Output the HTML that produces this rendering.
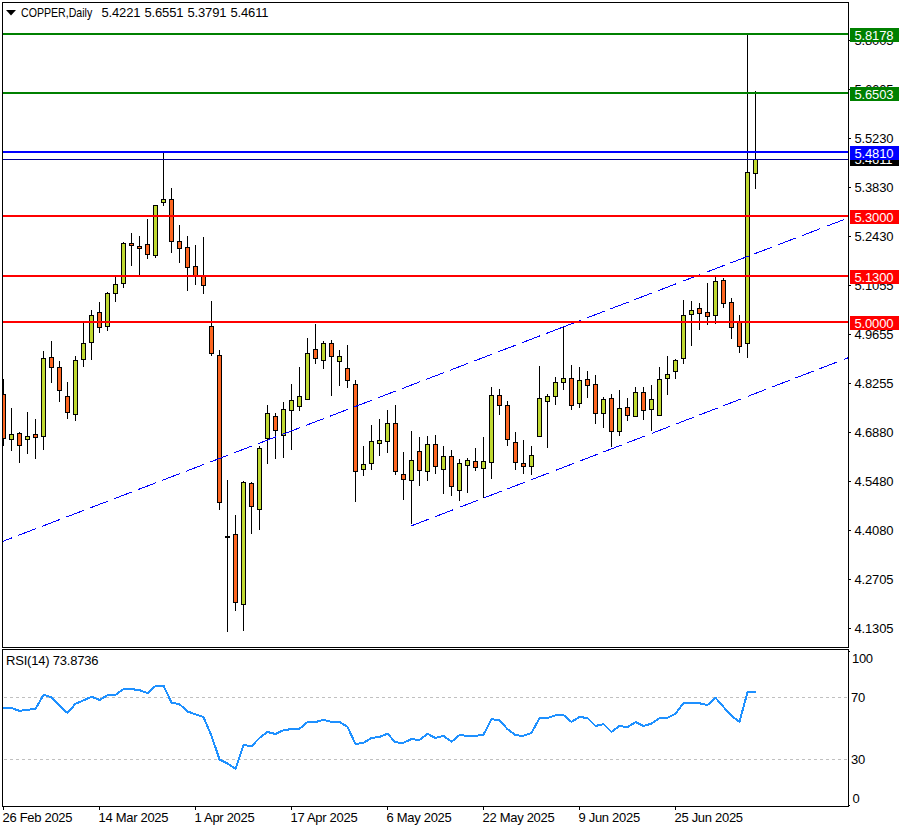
<!DOCTYPE html>
<html><head><meta charset="utf-8"><title>COPPER Daily</title>
<style>
html,body{margin:0;padding:0;background:#fff;}
body{width:905px;height:830px;position:relative;overflow:hidden;font-family:"Liberation Sans",sans-serif;}
.t{position:absolute;font-size:13px;line-height:15px;color:#000;white-space:pre;}
.b{position:absolute;left:850px;width:49px;height:14px;color:#fff;font-size:13px;line-height:14px;white-space:pre;overflow:hidden;}
.b span{position:absolute;left:4.5px;top:1px;}
</style></head><body>
<svg width="905" height="830" viewBox="0 0 905 830" style="position:absolute;left:0;top:0">
<g shape-rendering="crispEdges">
<clipPath id="cp"><rect x="3" y="3" width="845" height="644"/></clipPath>
<g clip-path="url(#cp)">
<rect x="3" y="379" width="1" height="67" fill="#000"/>
<rect x="1" y="394" width="5" height="45" fill="#000"/>
<rect x="2" y="395" width="3" height="43" fill="#fc6520"/>
<rect x="11" y="408" width="1" height="43" fill="#000"/>
<rect x="9" y="434" width="5" height="6" fill="#000"/>
<rect x="10" y="435" width="3" height="4" fill="#bfd830"/>
<rect x="19" y="432" width="1" height="31" fill="#000"/>
<rect x="17" y="433" width="5" height="13" fill="#000"/>
<rect x="18" y="434" width="3" height="11" fill="#fc6520"/>
<rect x="27" y="412" width="1" height="42" fill="#000"/>
<rect x="25" y="436" width="5" height="4" fill="#000"/>
<rect x="26" y="437" width="3" height="2" fill="#bfd830"/>
<rect x="35" y="419" width="1" height="40" fill="#000"/>
<rect x="33" y="434" width="5" height="4" fill="#000"/>
<rect x="34" y="435" width="3" height="2" fill="#fc6520"/>
<rect x="43" y="351" width="1" height="99" fill="#000"/>
<rect x="41" y="358" width="5" height="79" fill="#000"/>
<rect x="42" y="359" width="3" height="77" fill="#bfd830"/>
<rect x="51" y="341" width="1" height="42" fill="#000"/>
<rect x="49" y="357" width="5" height="11" fill="#000"/>
<rect x="50" y="358" width="3" height="9" fill="#fc6520"/>
<rect x="59" y="361" width="1" height="41" fill="#000"/>
<rect x="57" y="367" width="5" height="24" fill="#000"/>
<rect x="58" y="368" width="3" height="22" fill="#fc6520"/>
<rect x="67" y="382" width="1" height="37" fill="#000"/>
<rect x="65" y="396" width="5" height="17" fill="#000"/>
<rect x="66" y="397" width="3" height="15" fill="#fc6520"/>
<rect x="75" y="356" width="1" height="65" fill="#000"/>
<rect x="73" y="360" width="5" height="55" fill="#000"/>
<rect x="74" y="361" width="3" height="53" fill="#bfd830"/>
<rect x="83" y="323" width="1" height="44" fill="#000"/>
<rect x="81" y="343" width="5" height="17" fill="#000"/>
<rect x="82" y="344" width="3" height="15" fill="#bfd830"/>
<rect x="91" y="310" width="1" height="50" fill="#000"/>
<rect x="89" y="315" width="5" height="28" fill="#000"/>
<rect x="90" y="316" width="3" height="26" fill="#bfd830"/>
<rect x="99" y="302" width="1" height="31" fill="#000"/>
<rect x="97" y="312" width="5" height="16" fill="#000"/>
<rect x="98" y="313" width="3" height="14" fill="#fc6520"/>
<rect x="107" y="292" width="1" height="39" fill="#000"/>
<rect x="105" y="293" width="5" height="34" fill="#000"/>
<rect x="106" y="294" width="3" height="32" fill="#bfd830"/>
<rect x="115" y="277" width="1" height="25" fill="#000"/>
<rect x="113" y="284" width="5" height="10" fill="#000"/>
<rect x="114" y="285" width="3" height="8" fill="#bfd830"/>
<rect x="123" y="242" width="1" height="46" fill="#000"/>
<rect x="121" y="243" width="5" height="41" fill="#000"/>
<rect x="122" y="244" width="3" height="39" fill="#bfd830"/>
<rect x="131" y="233" width="1" height="33" fill="#000"/>
<rect x="129" y="243" width="5" height="3" fill="#000"/>
<rect x="130" y="244" width="3" height="1" fill="#fc6520"/>
<rect x="139" y="236" width="1" height="39" fill="#000"/>
<rect x="137" y="246" width="5" height="3" fill="#000"/>
<rect x="138" y="247" width="3" height="1" fill="#fc6520"/>
<rect x="147" y="219" width="1" height="40" fill="#000"/>
<rect x="145" y="244" width="5" height="11" fill="#000"/>
<rect x="146" y="245" width="3" height="9" fill="#fc6520"/>
<rect x="155" y="205" width="1" height="53" fill="#000"/>
<rect x="153" y="205" width="5" height="51" fill="#000"/>
<rect x="154" y="206" width="3" height="49" fill="#bfd830"/>
<rect x="163" y="152" width="1" height="54" fill="#000"/>
<rect x="161" y="199" width="5" height="4" fill="#000"/>
<rect x="162" y="200" width="3" height="2" fill="#bfd830"/>
<rect x="171" y="188" width="1" height="65" fill="#000"/>
<rect x="169" y="199" width="5" height="43" fill="#000"/>
<rect x="170" y="200" width="3" height="41" fill="#fc6520"/>
<rect x="179" y="225" width="1" height="38" fill="#000"/>
<rect x="177" y="241" width="5" height="8" fill="#000"/>
<rect x="178" y="242" width="3" height="6" fill="#fc6520"/>
<rect x="187" y="236" width="1" height="55" fill="#000"/>
<rect x="185" y="247" width="5" height="21" fill="#000"/>
<rect x="186" y="248" width="3" height="19" fill="#fc6520"/>
<rect x="195" y="245" width="1" height="40" fill="#000"/>
<rect x="193" y="266" width="5" height="10" fill="#000"/>
<rect x="194" y="267" width="3" height="8" fill="#fc6520"/>
<rect x="203" y="237" width="1" height="57" fill="#000"/>
<rect x="201" y="276" width="5" height="10" fill="#000"/>
<rect x="202" y="277" width="3" height="8" fill="#fc6520"/>
<rect x="211" y="301" width="1" height="55" fill="#000"/>
<rect x="209" y="326" width="5" height="28" fill="#000"/>
<rect x="210" y="327" width="3" height="26" fill="#fc6520"/>
<rect x="219" y="350" width="1" height="160" fill="#000"/>
<rect x="217" y="355" width="5" height="148" fill="#000"/>
<rect x="218" y="356" width="3" height="146" fill="#fc6520"/>
<rect x="227" y="480" width="1" height="152" fill="#000"/>
<rect x="225" y="536" width="5" height="2" fill="#000"/>
<rect x="235" y="515" width="1" height="96" fill="#000"/>
<rect x="233" y="534" width="5" height="69" fill="#000"/>
<rect x="234" y="535" width="3" height="67" fill="#fc6520"/>
<rect x="243" y="481" width="1" height="150" fill="#000"/>
<rect x="241" y="482" width="5" height="123" fill="#000"/>
<rect x="242" y="483" width="3" height="121" fill="#bfd830"/>
<rect x="251" y="482" width="1" height="52" fill="#000"/>
<rect x="249" y="483" width="5" height="24" fill="#000"/>
<rect x="250" y="484" width="3" height="22" fill="#fc6520"/>
<rect x="259" y="446" width="1" height="84" fill="#000"/>
<rect x="257" y="448" width="5" height="62" fill="#000"/>
<rect x="258" y="449" width="3" height="60" fill="#bfd830"/>
<rect x="267" y="405" width="1" height="59" fill="#000"/>
<rect x="265" y="413" width="5" height="26" fill="#000"/>
<rect x="266" y="414" width="3" height="24" fill="#bfd830"/>
<rect x="275" y="413" width="1" height="46" fill="#000"/>
<rect x="273" y="416" width="5" height="15" fill="#000"/>
<rect x="274" y="417" width="3" height="13" fill="#fc6520"/>
<rect x="283" y="402" width="1" height="56" fill="#000"/>
<rect x="281" y="409" width="5" height="27" fill="#000"/>
<rect x="282" y="410" width="3" height="25" fill="#bfd830"/>
<rect x="291" y="384" width="1" height="66" fill="#000"/>
<rect x="289" y="400" width="5" height="11" fill="#000"/>
<rect x="290" y="401" width="3" height="9" fill="#bfd830"/>
<rect x="299" y="367" width="1" height="44" fill="#000"/>
<rect x="297" y="396" width="5" height="11" fill="#000"/>
<rect x="298" y="397" width="3" height="9" fill="#bfd830"/>
<rect x="307" y="338" width="1" height="62" fill="#000"/>
<rect x="305" y="353" width="5" height="47" fill="#000"/>
<rect x="306" y="354" width="3" height="45" fill="#bfd830"/>
<rect x="315" y="324" width="1" height="40" fill="#000"/>
<rect x="313" y="349" width="5" height="10" fill="#000"/>
<rect x="314" y="350" width="3" height="8" fill="#fc6520"/>
<rect x="323" y="341" width="1" height="28" fill="#000"/>
<rect x="321" y="343" width="5" height="18" fill="#000"/>
<rect x="322" y="344" width="3" height="16" fill="#bfd830"/>
<rect x="331" y="340" width="1" height="56" fill="#000"/>
<rect x="329" y="343" width="5" height="14" fill="#000"/>
<rect x="330" y="344" width="3" height="12" fill="#fc6520"/>
<rect x="339" y="350" width="1" height="36" fill="#000"/>
<rect x="337" y="356" width="5" height="6" fill="#000"/>
<rect x="338" y="357" width="3" height="4" fill="#bfd830"/>
<rect x="347" y="345" width="1" height="43" fill="#000"/>
<rect x="345" y="368" width="5" height="13" fill="#000"/>
<rect x="346" y="369" width="3" height="11" fill="#fc6520"/>
<rect x="355" y="380" width="1" height="122" fill="#000"/>
<rect x="353" y="384" width="5" height="88" fill="#000"/>
<rect x="354" y="385" width="3" height="86" fill="#fc6520"/>
<rect x="363" y="446" width="1" height="30" fill="#000"/>
<rect x="361" y="464" width="5" height="6" fill="#000"/>
<rect x="362" y="465" width="3" height="4" fill="#bfd830"/>
<rect x="371" y="425" width="1" height="45" fill="#000"/>
<rect x="369" y="441" width="5" height="23" fill="#000"/>
<rect x="370" y="442" width="3" height="21" fill="#bfd830"/>
<rect x="379" y="419" width="1" height="37" fill="#000"/>
<rect x="377" y="440" width="5" height="4" fill="#000"/>
<rect x="378" y="441" width="3" height="2" fill="#bfd830"/>
<rect x="387" y="410" width="1" height="43" fill="#000"/>
<rect x="385" y="423" width="5" height="19" fill="#000"/>
<rect x="386" y="424" width="3" height="17" fill="#bfd830"/>
<rect x="395" y="405" width="1" height="70" fill="#000"/>
<rect x="393" y="423" width="5" height="49" fill="#000"/>
<rect x="394" y="424" width="3" height="47" fill="#fc6520"/>
<rect x="403" y="452" width="1" height="48" fill="#000"/>
<rect x="401" y="474" width="5" height="6" fill="#000"/>
<rect x="402" y="475" width="3" height="4" fill="#fc6520"/>
<rect x="411" y="431" width="1" height="93" fill="#000"/>
<rect x="409" y="460" width="5" height="21" fill="#000"/>
<rect x="410" y="461" width="3" height="19" fill="#bfd830"/>
<rect x="419" y="437" width="1" height="49" fill="#000"/>
<rect x="417" y="451" width="5" height="20" fill="#000"/>
<rect x="418" y="452" width="3" height="18" fill="#fc6520"/>
<rect x="427" y="436" width="1" height="45" fill="#000"/>
<rect x="425" y="444" width="5" height="28" fill="#000"/>
<rect x="426" y="445" width="3" height="26" fill="#bfd830"/>
<rect x="435" y="435" width="1" height="39" fill="#000"/>
<rect x="433" y="444" width="5" height="23" fill="#000"/>
<rect x="434" y="445" width="3" height="21" fill="#fc6520"/>
<rect x="443" y="446" width="1" height="48" fill="#000"/>
<rect x="441" y="456" width="5" height="14" fill="#000"/>
<rect x="442" y="457" width="3" height="12" fill="#bfd830"/>
<rect x="451" y="450" width="1" height="46" fill="#000"/>
<rect x="449" y="456" width="5" height="31" fill="#000"/>
<rect x="450" y="457" width="3" height="29" fill="#fc6520"/>
<rect x="459" y="459" width="1" height="42" fill="#000"/>
<rect x="457" y="463" width="5" height="28" fill="#000"/>
<rect x="458" y="464" width="3" height="26" fill="#bfd830"/>
<rect x="467" y="458" width="1" height="35" fill="#000"/>
<rect x="465" y="460" width="5" height="6" fill="#000"/>
<rect x="466" y="461" width="3" height="4" fill="#bfd830"/>
<rect x="475" y="448" width="1" height="23" fill="#000"/>
<rect x="473" y="461" width="5" height="7" fill="#000"/>
<rect x="474" y="462" width="3" height="5" fill="#fc6520"/>
<rect x="483" y="437" width="1" height="61" fill="#000"/>
<rect x="481" y="461" width="5" height="8" fill="#000"/>
<rect x="482" y="462" width="3" height="6" fill="#bfd830"/>
<rect x="491" y="387" width="1" height="92" fill="#000"/>
<rect x="489" y="395" width="5" height="68" fill="#000"/>
<rect x="490" y="396" width="3" height="66" fill="#bfd830"/>
<rect x="499" y="389" width="1" height="26" fill="#000"/>
<rect x="497" y="395" width="5" height="11" fill="#000"/>
<rect x="498" y="396" width="3" height="9" fill="#fc6520"/>
<rect x="507" y="401" width="1" height="45" fill="#000"/>
<rect x="505" y="405" width="5" height="35" fill="#000"/>
<rect x="506" y="406" width="3" height="33" fill="#fc6520"/>
<rect x="515" y="432" width="1" height="38" fill="#000"/>
<rect x="513" y="442" width="5" height="21" fill="#000"/>
<rect x="514" y="443" width="3" height="19" fill="#fc6520"/>
<rect x="523" y="440" width="1" height="34" fill="#000"/>
<rect x="521" y="463" width="5" height="4" fill="#000"/>
<rect x="522" y="464" width="3" height="2" fill="#fc6520"/>
<rect x="531" y="446" width="1" height="29" fill="#000"/>
<rect x="529" y="455" width="5" height="12" fill="#000"/>
<rect x="530" y="456" width="3" height="10" fill="#bfd830"/>
<rect x="539" y="366" width="1" height="71" fill="#000"/>
<rect x="537" y="398" width="5" height="39" fill="#000"/>
<rect x="538" y="399" width="3" height="37" fill="#bfd830"/>
<rect x="547" y="394" width="1" height="54" fill="#000"/>
<rect x="545" y="396" width="5" height="6" fill="#000"/>
<rect x="546" y="397" width="3" height="4" fill="#bfd830"/>
<rect x="555" y="377" width="1" height="28" fill="#000"/>
<rect x="553" y="382" width="5" height="15" fill="#000"/>
<rect x="554" y="383" width="3" height="13" fill="#bfd830"/>
<rect x="563" y="326" width="1" height="64" fill="#000"/>
<rect x="561" y="378" width="5" height="5" fill="#000"/>
<rect x="562" y="379" width="3" height="3" fill="#bfd830"/>
<rect x="571" y="365" width="1" height="45" fill="#000"/>
<rect x="569" y="378" width="5" height="28" fill="#000"/>
<rect x="570" y="379" width="3" height="26" fill="#fc6520"/>
<rect x="579" y="367" width="1" height="41" fill="#000"/>
<rect x="577" y="380" width="5" height="24" fill="#000"/>
<rect x="578" y="381" width="3" height="22" fill="#bfd830"/>
<rect x="587" y="371" width="1" height="27" fill="#000"/>
<rect x="585" y="379" width="5" height="7" fill="#000"/>
<rect x="586" y="380" width="3" height="5" fill="#fc6520"/>
<rect x="595" y="375" width="1" height="49" fill="#000"/>
<rect x="593" y="384" width="5" height="30" fill="#000"/>
<rect x="594" y="385" width="3" height="28" fill="#fc6520"/>
<rect x="603" y="397" width="1" height="31" fill="#000"/>
<rect x="601" y="399" width="5" height="15" fill="#000"/>
<rect x="602" y="400" width="3" height="13" fill="#bfd830"/>
<rect x="611" y="394" width="1" height="53" fill="#000"/>
<rect x="609" y="398" width="5" height="34" fill="#000"/>
<rect x="610" y="399" width="3" height="32" fill="#fc6520"/>
<rect x="619" y="390" width="1" height="46" fill="#000"/>
<rect x="617" y="408" width="5" height="24" fill="#000"/>
<rect x="618" y="409" width="3" height="22" fill="#bfd830"/>
<rect x="627" y="398" width="1" height="23" fill="#000"/>
<rect x="625" y="407" width="5" height="9" fill="#000"/>
<rect x="626" y="408" width="3" height="7" fill="#fc6520"/>
<rect x="635" y="387" width="1" height="30" fill="#000"/>
<rect x="633" y="392" width="5" height="25" fill="#000"/>
<rect x="634" y="393" width="3" height="23" fill="#bfd830"/>
<rect x="643" y="387" width="1" height="33" fill="#000"/>
<rect x="641" y="392" width="5" height="19" fill="#000"/>
<rect x="642" y="393" width="3" height="17" fill="#fc6520"/>
<rect x="651" y="385" width="1" height="46" fill="#000"/>
<rect x="649" y="399" width="5" height="11" fill="#000"/>
<rect x="650" y="400" width="3" height="9" fill="#bfd830"/>
<rect x="659" y="367" width="1" height="49" fill="#000"/>
<rect x="657" y="379" width="5" height="37" fill="#000"/>
<rect x="658" y="380" width="3" height="35" fill="#bfd830"/>
<rect x="667" y="356" width="1" height="39" fill="#000"/>
<rect x="665" y="374" width="5" height="5" fill="#000"/>
<rect x="666" y="375" width="3" height="3" fill="#bfd830"/>
<rect x="675" y="359" width="1" height="20" fill="#000"/>
<rect x="673" y="360" width="5" height="12" fill="#000"/>
<rect x="674" y="361" width="3" height="10" fill="#bfd830"/>
<rect x="683" y="300" width="1" height="64" fill="#000"/>
<rect x="681" y="315" width="5" height="44" fill="#000"/>
<rect x="682" y="316" width="3" height="42" fill="#bfd830"/>
<rect x="691" y="301" width="1" height="45" fill="#000"/>
<rect x="689" y="310" width="5" height="5" fill="#000"/>
<rect x="690" y="311" width="3" height="3" fill="#bfd830"/>
<rect x="699" y="303" width="1" height="27" fill="#000"/>
<rect x="697" y="308" width="5" height="6" fill="#000"/>
<rect x="698" y="309" width="3" height="4" fill="#fc6520"/>
<rect x="707" y="283" width="1" height="42" fill="#000"/>
<rect x="705" y="312" width="5" height="5" fill="#000"/>
<rect x="706" y="313" width="3" height="3" fill="#fc6520"/>
<rect x="715" y="277" width="1" height="47" fill="#000"/>
<rect x="713" y="281" width="5" height="35" fill="#000"/>
<rect x="714" y="282" width="3" height="33" fill="#bfd830"/>
<rect x="723" y="278" width="1" height="30" fill="#000"/>
<rect x="721" y="280" width="5" height="24" fill="#000"/>
<rect x="722" y="281" width="3" height="22" fill="#fc6520"/>
<rect x="731" y="298" width="1" height="41" fill="#000"/>
<rect x="729" y="302" width="5" height="26" fill="#000"/>
<rect x="730" y="303" width="3" height="24" fill="#fc6520"/>
<rect x="739" y="315" width="1" height="38" fill="#000"/>
<rect x="737" y="322" width="5" height="25" fill="#000"/>
<rect x="738" y="323" width="3" height="23" fill="#fc6520"/>
<rect x="747" y="34" width="1" height="324" fill="#000"/>
<rect x="745" y="172" width="5" height="172" fill="#000"/>
<rect x="746" y="173" width="3" height="170" fill="#bfd830"/>
<rect x="755" y="91" width="1" height="98" fill="#000"/>
<rect x="753" y="159" width="5" height="15" fill="#000"/>
<rect x="754" y="160" width="3" height="13" fill="#bfd830"/>
</g>
<g clip-path="url(#cp)">
<line x1="562.5" y1="327.24" x2="848" y2="218.04" stroke="#0000ff" stroke-width="1" stroke-dasharray="19.27 6.42"/>
<line x1="-6" y1="544.70" x2="563.5" y2="326.86" stroke="#0000ff" stroke-width="1" stroke-dasharray="19.27 6.42"/>
<line x1="411.5" y1="525.80" x2="848" y2="357.83" stroke="#0000ff" stroke-width="1" stroke-dasharray="19.29 6.43"/>
</g>
<rect x="3" y="33" width="845" height="2" fill="#008000"/>
<rect x="3" y="92" width="845" height="2" fill="#008000"/>
<rect x="3" y="151" width="845" height="2" fill="#0000ff"/>
<rect x="3" y="159" width="845" height="1" fill="#000090"/>
<rect x="3" y="215" width="845" height="2" fill="#ff0000"/>
<rect x="3" y="275" width="845" height="2" fill="#ff0000"/>
<rect x="3" y="321" width="845" height="2" fill="#ff0000"/>
<rect x="2" y="2" width="847" height="1" fill="#000"/>
<rect x="2" y="647" width="847" height="1" fill="#000"/>
<rect x="2" y="2" width="1" height="646" fill="#000"/>
<rect x="848" y="2" width="1" height="646" fill="#000"/>
<rect x="2" y="649" width="847" height="1" fill="#000"/>
<rect x="2" y="806" width="847" height="1" fill="#000"/>
<rect x="2" y="649" width="1" height="158" fill="#000"/>
<rect x="848" y="649" width="1" height="158" fill="#000"/>
<rect x="849" y="40" width="2" height="1" fill="#000"/>
<rect x="849" y="89" width="2" height="1" fill="#000"/>
<rect x="849" y="138" width="2" height="1" fill="#000"/>
<rect x="849" y="187" width="2" height="1" fill="#000"/>
<rect x="849" y="236" width="2" height="1" fill="#000"/>
<rect x="849" y="285" width="2" height="1" fill="#000"/>
<rect x="849" y="334" width="2" height="1" fill="#000"/>
<rect x="849" y="383" width="2" height="1" fill="#000"/>
<rect x="849" y="432" width="2" height="1" fill="#000"/>
<rect x="849" y="481" width="2" height="1" fill="#000"/>
<rect x="849" y="530" width="2" height="1" fill="#000"/>
<rect x="849" y="579" width="2" height="1" fill="#000"/>
<rect x="849" y="628" width="2" height="1" fill="#000"/>
<rect x="849" y="651" width="1" height="1" fill="#000"/>
<rect x="849" y="805" width="1" height="1" fill="#000"/>
<rect x="3" y="807" width="1" height="3" fill="#000"/>
<rect x="99" y="807" width="1" height="3" fill="#000"/>
<rect x="195" y="807" width="1" height="3" fill="#000"/>
<rect x="291" y="807" width="1" height="3" fill="#000"/>
<rect x="387" y="807" width="1" height="3" fill="#000"/>
<rect x="483" y="807" width="1" height="3" fill="#000"/>
<rect x="579" y="807" width="1" height="3" fill="#000"/>
<rect x="675" y="807" width="1" height="3" fill="#000"/>
<rect x="4" y="697" width="3" height="1" fill="#c0c0c0"/>
<rect x="10" y="697" width="3" height="1" fill="#c0c0c0"/>
<rect x="16" y="697" width="3" height="1" fill="#c0c0c0"/>
<rect x="22" y="697" width="3" height="1" fill="#c0c0c0"/>
<rect x="28" y="697" width="3" height="1" fill="#c0c0c0"/>
<rect x="34" y="697" width="3" height="1" fill="#c0c0c0"/>
<rect x="40" y="697" width="3" height="1" fill="#c0c0c0"/>
<rect x="46" y="697" width="3" height="1" fill="#c0c0c0"/>
<rect x="52" y="697" width="3" height="1" fill="#c0c0c0"/>
<rect x="58" y="697" width="3" height="1" fill="#c0c0c0"/>
<rect x="64" y="697" width="3" height="1" fill="#c0c0c0"/>
<rect x="70" y="697" width="3" height="1" fill="#c0c0c0"/>
<rect x="76" y="697" width="3" height="1" fill="#c0c0c0"/>
<rect x="82" y="697" width="3" height="1" fill="#c0c0c0"/>
<rect x="88" y="697" width="3" height="1" fill="#c0c0c0"/>
<rect x="94" y="697" width="3" height="1" fill="#c0c0c0"/>
<rect x="100" y="697" width="3" height="1" fill="#c0c0c0"/>
<rect x="106" y="697" width="3" height="1" fill="#c0c0c0"/>
<rect x="112" y="697" width="3" height="1" fill="#c0c0c0"/>
<rect x="118" y="697" width="3" height="1" fill="#c0c0c0"/>
<rect x="124" y="697" width="3" height="1" fill="#c0c0c0"/>
<rect x="130" y="697" width="3" height="1" fill="#c0c0c0"/>
<rect x="136" y="697" width="3" height="1" fill="#c0c0c0"/>
<rect x="142" y="697" width="3" height="1" fill="#c0c0c0"/>
<rect x="148" y="697" width="3" height="1" fill="#c0c0c0"/>
<rect x="154" y="697" width="3" height="1" fill="#c0c0c0"/>
<rect x="160" y="697" width="3" height="1" fill="#c0c0c0"/>
<rect x="166" y="697" width="3" height="1" fill="#c0c0c0"/>
<rect x="172" y="697" width="3" height="1" fill="#c0c0c0"/>
<rect x="178" y="697" width="3" height="1" fill="#c0c0c0"/>
<rect x="184" y="697" width="3" height="1" fill="#c0c0c0"/>
<rect x="190" y="697" width="3" height="1" fill="#c0c0c0"/>
<rect x="196" y="697" width="3" height="1" fill="#c0c0c0"/>
<rect x="202" y="697" width="3" height="1" fill="#c0c0c0"/>
<rect x="208" y="697" width="3" height="1" fill="#c0c0c0"/>
<rect x="214" y="697" width="3" height="1" fill="#c0c0c0"/>
<rect x="220" y="697" width="3" height="1" fill="#c0c0c0"/>
<rect x="226" y="697" width="3" height="1" fill="#c0c0c0"/>
<rect x="232" y="697" width="3" height="1" fill="#c0c0c0"/>
<rect x="238" y="697" width="3" height="1" fill="#c0c0c0"/>
<rect x="244" y="697" width="3" height="1" fill="#c0c0c0"/>
<rect x="250" y="697" width="3" height="1" fill="#c0c0c0"/>
<rect x="256" y="697" width="3" height="1" fill="#c0c0c0"/>
<rect x="262" y="697" width="3" height="1" fill="#c0c0c0"/>
<rect x="268" y="697" width="3" height="1" fill="#c0c0c0"/>
<rect x="274" y="697" width="3" height="1" fill="#c0c0c0"/>
<rect x="280" y="697" width="3" height="1" fill="#c0c0c0"/>
<rect x="286" y="697" width="3" height="1" fill="#c0c0c0"/>
<rect x="292" y="697" width="3" height="1" fill="#c0c0c0"/>
<rect x="298" y="697" width="3" height="1" fill="#c0c0c0"/>
<rect x="304" y="697" width="3" height="1" fill="#c0c0c0"/>
<rect x="310" y="697" width="3" height="1" fill="#c0c0c0"/>
<rect x="316" y="697" width="3" height="1" fill="#c0c0c0"/>
<rect x="322" y="697" width="3" height="1" fill="#c0c0c0"/>
<rect x="328" y="697" width="3" height="1" fill="#c0c0c0"/>
<rect x="334" y="697" width="3" height="1" fill="#c0c0c0"/>
<rect x="340" y="697" width="3" height="1" fill="#c0c0c0"/>
<rect x="346" y="697" width="3" height="1" fill="#c0c0c0"/>
<rect x="352" y="697" width="3" height="1" fill="#c0c0c0"/>
<rect x="358" y="697" width="3" height="1" fill="#c0c0c0"/>
<rect x="364" y="697" width="3" height="1" fill="#c0c0c0"/>
<rect x="370" y="697" width="3" height="1" fill="#c0c0c0"/>
<rect x="376" y="697" width="3" height="1" fill="#c0c0c0"/>
<rect x="382" y="697" width="3" height="1" fill="#c0c0c0"/>
<rect x="388" y="697" width="3" height="1" fill="#c0c0c0"/>
<rect x="394" y="697" width="3" height="1" fill="#c0c0c0"/>
<rect x="400" y="697" width="3" height="1" fill="#c0c0c0"/>
<rect x="406" y="697" width="3" height="1" fill="#c0c0c0"/>
<rect x="412" y="697" width="3" height="1" fill="#c0c0c0"/>
<rect x="418" y="697" width="3" height="1" fill="#c0c0c0"/>
<rect x="424" y="697" width="3" height="1" fill="#c0c0c0"/>
<rect x="430" y="697" width="3" height="1" fill="#c0c0c0"/>
<rect x="436" y="697" width="3" height="1" fill="#c0c0c0"/>
<rect x="442" y="697" width="3" height="1" fill="#c0c0c0"/>
<rect x="448" y="697" width="3" height="1" fill="#c0c0c0"/>
<rect x="454" y="697" width="3" height="1" fill="#c0c0c0"/>
<rect x="460" y="697" width="3" height="1" fill="#c0c0c0"/>
<rect x="466" y="697" width="3" height="1" fill="#c0c0c0"/>
<rect x="472" y="697" width="3" height="1" fill="#c0c0c0"/>
<rect x="478" y="697" width="3" height="1" fill="#c0c0c0"/>
<rect x="484" y="697" width="3" height="1" fill="#c0c0c0"/>
<rect x="490" y="697" width="3" height="1" fill="#c0c0c0"/>
<rect x="496" y="697" width="3" height="1" fill="#c0c0c0"/>
<rect x="502" y="697" width="3" height="1" fill="#c0c0c0"/>
<rect x="508" y="697" width="3" height="1" fill="#c0c0c0"/>
<rect x="514" y="697" width="3" height="1" fill="#c0c0c0"/>
<rect x="520" y="697" width="3" height="1" fill="#c0c0c0"/>
<rect x="526" y="697" width="3" height="1" fill="#c0c0c0"/>
<rect x="532" y="697" width="3" height="1" fill="#c0c0c0"/>
<rect x="538" y="697" width="3" height="1" fill="#c0c0c0"/>
<rect x="544" y="697" width="3" height="1" fill="#c0c0c0"/>
<rect x="550" y="697" width="3" height="1" fill="#c0c0c0"/>
<rect x="556" y="697" width="3" height="1" fill="#c0c0c0"/>
<rect x="562" y="697" width="3" height="1" fill="#c0c0c0"/>
<rect x="568" y="697" width="3" height="1" fill="#c0c0c0"/>
<rect x="574" y="697" width="3" height="1" fill="#c0c0c0"/>
<rect x="580" y="697" width="3" height="1" fill="#c0c0c0"/>
<rect x="586" y="697" width="3" height="1" fill="#c0c0c0"/>
<rect x="592" y="697" width="3" height="1" fill="#c0c0c0"/>
<rect x="598" y="697" width="3" height="1" fill="#c0c0c0"/>
<rect x="604" y="697" width="3" height="1" fill="#c0c0c0"/>
<rect x="610" y="697" width="3" height="1" fill="#c0c0c0"/>
<rect x="616" y="697" width="3" height="1" fill="#c0c0c0"/>
<rect x="622" y="697" width="3" height="1" fill="#c0c0c0"/>
<rect x="628" y="697" width="3" height="1" fill="#c0c0c0"/>
<rect x="634" y="697" width="3" height="1" fill="#c0c0c0"/>
<rect x="640" y="697" width="3" height="1" fill="#c0c0c0"/>
<rect x="646" y="697" width="3" height="1" fill="#c0c0c0"/>
<rect x="652" y="697" width="3" height="1" fill="#c0c0c0"/>
<rect x="658" y="697" width="3" height="1" fill="#c0c0c0"/>
<rect x="664" y="697" width="3" height="1" fill="#c0c0c0"/>
<rect x="670" y="697" width="3" height="1" fill="#c0c0c0"/>
<rect x="676" y="697" width="3" height="1" fill="#c0c0c0"/>
<rect x="682" y="697" width="3" height="1" fill="#c0c0c0"/>
<rect x="688" y="697" width="3" height="1" fill="#c0c0c0"/>
<rect x="694" y="697" width="3" height="1" fill="#c0c0c0"/>
<rect x="700" y="697" width="3" height="1" fill="#c0c0c0"/>
<rect x="706" y="697" width="3" height="1" fill="#c0c0c0"/>
<rect x="712" y="697" width="3" height="1" fill="#c0c0c0"/>
<rect x="718" y="697" width="3" height="1" fill="#c0c0c0"/>
<rect x="724" y="697" width="3" height="1" fill="#c0c0c0"/>
<rect x="730" y="697" width="3" height="1" fill="#c0c0c0"/>
<rect x="736" y="697" width="3" height="1" fill="#c0c0c0"/>
<rect x="742" y="697" width="3" height="1" fill="#c0c0c0"/>
<rect x="748" y="697" width="3" height="1" fill="#c0c0c0"/>
<rect x="754" y="697" width="3" height="1" fill="#c0c0c0"/>
<rect x="760" y="697" width="3" height="1" fill="#c0c0c0"/>
<rect x="766" y="697" width="3" height="1" fill="#c0c0c0"/>
<rect x="772" y="697" width="3" height="1" fill="#c0c0c0"/>
<rect x="778" y="697" width="3" height="1" fill="#c0c0c0"/>
<rect x="784" y="697" width="3" height="1" fill="#c0c0c0"/>
<rect x="790" y="697" width="3" height="1" fill="#c0c0c0"/>
<rect x="796" y="697" width="3" height="1" fill="#c0c0c0"/>
<rect x="802" y="697" width="3" height="1" fill="#c0c0c0"/>
<rect x="808" y="697" width="3" height="1" fill="#c0c0c0"/>
<rect x="814" y="697" width="3" height="1" fill="#c0c0c0"/>
<rect x="820" y="697" width="3" height="1" fill="#c0c0c0"/>
<rect x="826" y="697" width="3" height="1" fill="#c0c0c0"/>
<rect x="832" y="697" width="3" height="1" fill="#c0c0c0"/>
<rect x="838" y="697" width="3" height="1" fill="#c0c0c0"/>
<rect x="844" y="697" width="3" height="1" fill="#c0c0c0"/>
<rect x="4" y="759" width="3" height="1" fill="#c0c0c0"/>
<rect x="10" y="759" width="3" height="1" fill="#c0c0c0"/>
<rect x="16" y="759" width="3" height="1" fill="#c0c0c0"/>
<rect x="22" y="759" width="3" height="1" fill="#c0c0c0"/>
<rect x="28" y="759" width="3" height="1" fill="#c0c0c0"/>
<rect x="34" y="759" width="3" height="1" fill="#c0c0c0"/>
<rect x="40" y="759" width="3" height="1" fill="#c0c0c0"/>
<rect x="46" y="759" width="3" height="1" fill="#c0c0c0"/>
<rect x="52" y="759" width="3" height="1" fill="#c0c0c0"/>
<rect x="58" y="759" width="3" height="1" fill="#c0c0c0"/>
<rect x="64" y="759" width="3" height="1" fill="#c0c0c0"/>
<rect x="70" y="759" width="3" height="1" fill="#c0c0c0"/>
<rect x="76" y="759" width="3" height="1" fill="#c0c0c0"/>
<rect x="82" y="759" width="3" height="1" fill="#c0c0c0"/>
<rect x="88" y="759" width="3" height="1" fill="#c0c0c0"/>
<rect x="94" y="759" width="3" height="1" fill="#c0c0c0"/>
<rect x="100" y="759" width="3" height="1" fill="#c0c0c0"/>
<rect x="106" y="759" width="3" height="1" fill="#c0c0c0"/>
<rect x="112" y="759" width="3" height="1" fill="#c0c0c0"/>
<rect x="118" y="759" width="3" height="1" fill="#c0c0c0"/>
<rect x="124" y="759" width="3" height="1" fill="#c0c0c0"/>
<rect x="130" y="759" width="3" height="1" fill="#c0c0c0"/>
<rect x="136" y="759" width="3" height="1" fill="#c0c0c0"/>
<rect x="142" y="759" width="3" height="1" fill="#c0c0c0"/>
<rect x="148" y="759" width="3" height="1" fill="#c0c0c0"/>
<rect x="154" y="759" width="3" height="1" fill="#c0c0c0"/>
<rect x="160" y="759" width="3" height="1" fill="#c0c0c0"/>
<rect x="166" y="759" width="3" height="1" fill="#c0c0c0"/>
<rect x="172" y="759" width="3" height="1" fill="#c0c0c0"/>
<rect x="178" y="759" width="3" height="1" fill="#c0c0c0"/>
<rect x="184" y="759" width="3" height="1" fill="#c0c0c0"/>
<rect x="190" y="759" width="3" height="1" fill="#c0c0c0"/>
<rect x="196" y="759" width="3" height="1" fill="#c0c0c0"/>
<rect x="202" y="759" width="3" height="1" fill="#c0c0c0"/>
<rect x="208" y="759" width="3" height="1" fill="#c0c0c0"/>
<rect x="214" y="759" width="3" height="1" fill="#c0c0c0"/>
<rect x="220" y="759" width="3" height="1" fill="#c0c0c0"/>
<rect x="226" y="759" width="3" height="1" fill="#c0c0c0"/>
<rect x="232" y="759" width="3" height="1" fill="#c0c0c0"/>
<rect x="238" y="759" width="3" height="1" fill="#c0c0c0"/>
<rect x="244" y="759" width="3" height="1" fill="#c0c0c0"/>
<rect x="250" y="759" width="3" height="1" fill="#c0c0c0"/>
<rect x="256" y="759" width="3" height="1" fill="#c0c0c0"/>
<rect x="262" y="759" width="3" height="1" fill="#c0c0c0"/>
<rect x="268" y="759" width="3" height="1" fill="#c0c0c0"/>
<rect x="274" y="759" width="3" height="1" fill="#c0c0c0"/>
<rect x="280" y="759" width="3" height="1" fill="#c0c0c0"/>
<rect x="286" y="759" width="3" height="1" fill="#c0c0c0"/>
<rect x="292" y="759" width="3" height="1" fill="#c0c0c0"/>
<rect x="298" y="759" width="3" height="1" fill="#c0c0c0"/>
<rect x="304" y="759" width="3" height="1" fill="#c0c0c0"/>
<rect x="310" y="759" width="3" height="1" fill="#c0c0c0"/>
<rect x="316" y="759" width="3" height="1" fill="#c0c0c0"/>
<rect x="322" y="759" width="3" height="1" fill="#c0c0c0"/>
<rect x="328" y="759" width="3" height="1" fill="#c0c0c0"/>
<rect x="334" y="759" width="3" height="1" fill="#c0c0c0"/>
<rect x="340" y="759" width="3" height="1" fill="#c0c0c0"/>
<rect x="346" y="759" width="3" height="1" fill="#c0c0c0"/>
<rect x="352" y="759" width="3" height="1" fill="#c0c0c0"/>
<rect x="358" y="759" width="3" height="1" fill="#c0c0c0"/>
<rect x="364" y="759" width="3" height="1" fill="#c0c0c0"/>
<rect x="370" y="759" width="3" height="1" fill="#c0c0c0"/>
<rect x="376" y="759" width="3" height="1" fill="#c0c0c0"/>
<rect x="382" y="759" width="3" height="1" fill="#c0c0c0"/>
<rect x="388" y="759" width="3" height="1" fill="#c0c0c0"/>
<rect x="394" y="759" width="3" height="1" fill="#c0c0c0"/>
<rect x="400" y="759" width="3" height="1" fill="#c0c0c0"/>
<rect x="406" y="759" width="3" height="1" fill="#c0c0c0"/>
<rect x="412" y="759" width="3" height="1" fill="#c0c0c0"/>
<rect x="418" y="759" width="3" height="1" fill="#c0c0c0"/>
<rect x="424" y="759" width="3" height="1" fill="#c0c0c0"/>
<rect x="430" y="759" width="3" height="1" fill="#c0c0c0"/>
<rect x="436" y="759" width="3" height="1" fill="#c0c0c0"/>
<rect x="442" y="759" width="3" height="1" fill="#c0c0c0"/>
<rect x="448" y="759" width="3" height="1" fill="#c0c0c0"/>
<rect x="454" y="759" width="3" height="1" fill="#c0c0c0"/>
<rect x="460" y="759" width="3" height="1" fill="#c0c0c0"/>
<rect x="466" y="759" width="3" height="1" fill="#c0c0c0"/>
<rect x="472" y="759" width="3" height="1" fill="#c0c0c0"/>
<rect x="478" y="759" width="3" height="1" fill="#c0c0c0"/>
<rect x="484" y="759" width="3" height="1" fill="#c0c0c0"/>
<rect x="490" y="759" width="3" height="1" fill="#c0c0c0"/>
<rect x="496" y="759" width="3" height="1" fill="#c0c0c0"/>
<rect x="502" y="759" width="3" height="1" fill="#c0c0c0"/>
<rect x="508" y="759" width="3" height="1" fill="#c0c0c0"/>
<rect x="514" y="759" width="3" height="1" fill="#c0c0c0"/>
<rect x="520" y="759" width="3" height="1" fill="#c0c0c0"/>
<rect x="526" y="759" width="3" height="1" fill="#c0c0c0"/>
<rect x="532" y="759" width="3" height="1" fill="#c0c0c0"/>
<rect x="538" y="759" width="3" height="1" fill="#c0c0c0"/>
<rect x="544" y="759" width="3" height="1" fill="#c0c0c0"/>
<rect x="550" y="759" width="3" height="1" fill="#c0c0c0"/>
<rect x="556" y="759" width="3" height="1" fill="#c0c0c0"/>
<rect x="562" y="759" width="3" height="1" fill="#c0c0c0"/>
<rect x="568" y="759" width="3" height="1" fill="#c0c0c0"/>
<rect x="574" y="759" width="3" height="1" fill="#c0c0c0"/>
<rect x="580" y="759" width="3" height="1" fill="#c0c0c0"/>
<rect x="586" y="759" width="3" height="1" fill="#c0c0c0"/>
<rect x="592" y="759" width="3" height="1" fill="#c0c0c0"/>
<rect x="598" y="759" width="3" height="1" fill="#c0c0c0"/>
<rect x="604" y="759" width="3" height="1" fill="#c0c0c0"/>
<rect x="610" y="759" width="3" height="1" fill="#c0c0c0"/>
<rect x="616" y="759" width="3" height="1" fill="#c0c0c0"/>
<rect x="622" y="759" width="3" height="1" fill="#c0c0c0"/>
<rect x="628" y="759" width="3" height="1" fill="#c0c0c0"/>
<rect x="634" y="759" width="3" height="1" fill="#c0c0c0"/>
<rect x="640" y="759" width="3" height="1" fill="#c0c0c0"/>
<rect x="646" y="759" width="3" height="1" fill="#c0c0c0"/>
<rect x="652" y="759" width="3" height="1" fill="#c0c0c0"/>
<rect x="658" y="759" width="3" height="1" fill="#c0c0c0"/>
<rect x="664" y="759" width="3" height="1" fill="#c0c0c0"/>
<rect x="670" y="759" width="3" height="1" fill="#c0c0c0"/>
<rect x="676" y="759" width="3" height="1" fill="#c0c0c0"/>
<rect x="682" y="759" width="3" height="1" fill="#c0c0c0"/>
<rect x="688" y="759" width="3" height="1" fill="#c0c0c0"/>
<rect x="694" y="759" width="3" height="1" fill="#c0c0c0"/>
<rect x="700" y="759" width="3" height="1" fill="#c0c0c0"/>
<rect x="706" y="759" width="3" height="1" fill="#c0c0c0"/>
<rect x="712" y="759" width="3" height="1" fill="#c0c0c0"/>
<rect x="718" y="759" width="3" height="1" fill="#c0c0c0"/>
<rect x="724" y="759" width="3" height="1" fill="#c0c0c0"/>
<rect x="730" y="759" width="3" height="1" fill="#c0c0c0"/>
<rect x="736" y="759" width="3" height="1" fill="#c0c0c0"/>
<rect x="742" y="759" width="3" height="1" fill="#c0c0c0"/>
<rect x="748" y="759" width="3" height="1" fill="#c0c0c0"/>
<rect x="754" y="759" width="3" height="1" fill="#c0c0c0"/>
<rect x="760" y="759" width="3" height="1" fill="#c0c0c0"/>
<rect x="766" y="759" width="3" height="1" fill="#c0c0c0"/>
<rect x="772" y="759" width="3" height="1" fill="#c0c0c0"/>
<rect x="778" y="759" width="3" height="1" fill="#c0c0c0"/>
<rect x="784" y="759" width="3" height="1" fill="#c0c0c0"/>
<rect x="790" y="759" width="3" height="1" fill="#c0c0c0"/>
<rect x="796" y="759" width="3" height="1" fill="#c0c0c0"/>
<rect x="802" y="759" width="3" height="1" fill="#c0c0c0"/>
<rect x="808" y="759" width="3" height="1" fill="#c0c0c0"/>
<rect x="814" y="759" width="3" height="1" fill="#c0c0c0"/>
<rect x="820" y="759" width="3" height="1" fill="#c0c0c0"/>
<rect x="826" y="759" width="3" height="1" fill="#c0c0c0"/>
<rect x="832" y="759" width="3" height="1" fill="#c0c0c0"/>
<rect x="838" y="759" width="3" height="1" fill="#c0c0c0"/>
<rect x="844" y="759" width="3" height="1" fill="#c0c0c0"/>
</g>
<clipPath id="cr"><rect x="3" y="650" width="845" height="156"/></clipPath>
<polyline clip-path="url(#cr)" points="2,708.1 3.5,708.1 11.5,708.1 19.5,710.8 27.5,709.9 35.5,708.8 43.5,694.9 51.5,697.1 59.5,705.9 67.5,713.0 75.5,703.7 83.5,700.4 91.5,696.7 99.5,700.0 107.5,695.3 115.5,694.9 123.5,689.1 131.5,689.1 139.5,690.2 147.5,693.1 155.5,686.0 163.5,685.6 171.5,702.6 179.5,704.2 187.5,711.5 195.5,714.3 203.5,717.0 211.5,735.8 219.5,759.4 227.5,763.4 235.5,768.9 243.5,745.0 251.5,746.2 259.5,738.0 267.5,732.0 275.5,734.0 283.5,730.2 291.5,729.1 299.5,728.7 307.5,722.1 315.5,722.1 323.5,719.9 331.5,721.9 339.5,721.9 347.5,726.9 355.5,744.0 363.5,742.8 371.5,738.0 379.5,736.9 387.5,733.7 395.5,742.4 403.5,742.8 411.5,739.1 419.5,740.0 427.5,733.8 435.5,738.0 443.5,735.8 451.5,741.7 459.5,735.1 467.5,735.8 475.5,735.8 483.5,734.7 491.5,719.2 499.5,720.3 507.5,729.1 515.5,735.3 523.5,735.8 531.5,732.9 539.5,718.3 547.5,718.1 555.5,715.4 563.5,715.0 571.5,721.9 579.5,716.9 587.5,718.1 595.5,726.0 603.5,724.1 611.5,732.0 619.5,726.0 627.5,727.2 635.5,722.1 643.5,726.0 651.5,723.6 659.5,718.1 667.5,717.7 675.5,713.7 683.5,703.1 691.5,703.1 699.5,703.3 707.5,705.0 715.5,697.8 723.5,707.0 731.5,715.9 739.5,721.9 747.5,692.0 755.5,692.0" fill="none" stroke="#1e90ff" stroke-width="2" stroke-linejoin="round" shape-rendering="crispEdges"/>
<path d="M6 10 L16 10 L11 15.5 Z" fill="#000"/>
</svg>
<span class="t" style="left:21px;top:5px;transform:scaleX(.815);transform-origin:0 0;">COPPER,Daily</span>
<span class="t" style="left:101.5px;top:5px;letter-spacing:-.15px;">5.4221</span>
<span class="t" style="left:144.5px;top:5px;letter-spacing:-.15px;">5.6551</span>
<span class="t" style="left:187.5px;top:5px;letter-spacing:-.15px;">5.3791</span>
<span class="t" style="left:230.5px;top:5px;letter-spacing:-.15px;">5.4611</span>
<span class="t" style="left:6px;top:653px;letter-spacing:-.2px;">RSI(14) 73.8736</span>
<span class="t" style="left:854.5px;top:33px;letter-spacing:-.15px;">5.8005</span>
<span class="t" style="left:854.5px;top:82px;letter-spacing:-.15px;">5.6605</span>
<span class="t" style="left:854.5px;top:131px;letter-spacing:-.15px;">5.5230</span>
<span class="t" style="left:854.5px;top:180px;letter-spacing:-.15px;">5.3830</span>
<span class="t" style="left:854.5px;top:229px;letter-spacing:-.15px;">5.2430</span>
<span class="t" style="left:854.5px;top:278px;letter-spacing:-.15px;">5.1055</span>
<span class="t" style="left:854.5px;top:327px;letter-spacing:-.15px;">4.9655</span>
<span class="t" style="left:854.5px;top:376px;letter-spacing:-.15px;">4.8255</span>
<span class="t" style="left:854.5px;top:425px;letter-spacing:-.15px;">4.6880</span>
<span class="t" style="left:854.5px;top:474px;letter-spacing:-.15px;">4.5480</span>
<span class="t" style="left:854.5px;top:523px;letter-spacing:-.15px;">4.4080</span>
<span class="t" style="left:854.5px;top:572px;letter-spacing:-.15px;">4.2705</span>
<span class="t" style="left:854.5px;top:621px;letter-spacing:-.15px;">4.1305</span>
<span class="b" style="top:28px;background:#008000"><span style="letter-spacing:-.15px">5.8178</span></span>
<span class="b" style="top:87px;background:#008000"><span style="letter-spacing:-.15px">5.6503</span></span>
<span class="b" style="top:152px;background:#000000"><span style="letter-spacing:-.15px">5.4611</span></span>
<span class="b" style="top:146px;background:#0000ff"><span style="letter-spacing:-.15px">5.4810</span></span>
<span class="b" style="top:210px;background:#ff0000"><span style="letter-spacing:-.15px">5.3000</span></span>
<span class="b" style="top:270px;background:#ff0000"><span style="letter-spacing:-.15px">5.1300</span></span>
<span class="b" style="top:316px;background:#ff0000"><span style="letter-spacing:-.15px">5.0000</span></span>
<span class="t" style="left:852px;top:651px;letter-spacing:-.3px;">100</span>
<span class="t" style="left:851px;top:690px;letter-spacing:-.3px;">70</span>
<span class="t" style="left:851px;top:752px;letter-spacing:-.3px;">30</span>
<span class="t" style="left:852.5px;top:791px;">0</span>
<span class="t" style="left:2.5px;top:810px;letter-spacing:-.3px;">26 Feb 2025</span>
<span class="t" style="left:98.5px;top:810px;letter-spacing:-.3px;">14 Mar 2025</span>
<span class="t" style="left:194.5px;top:810px;letter-spacing:-.3px;">1 Apr 2025</span>
<span class="t" style="left:290.5px;top:810px;letter-spacing:-.3px;">17 Apr 2025</span>
<span class="t" style="left:386.5px;top:810px;letter-spacing:-.3px;">6 May 2025</span>
<span class="t" style="left:482.5px;top:810px;letter-spacing:-.3px;">22 May 2025</span>
<span class="t" style="left:578.5px;top:810px;letter-spacing:-.3px;">9 Jun 2025</span>
<span class="t" style="left:674.5px;top:810px;letter-spacing:-.3px;">25 Jun 2025</span>
</body></html>
